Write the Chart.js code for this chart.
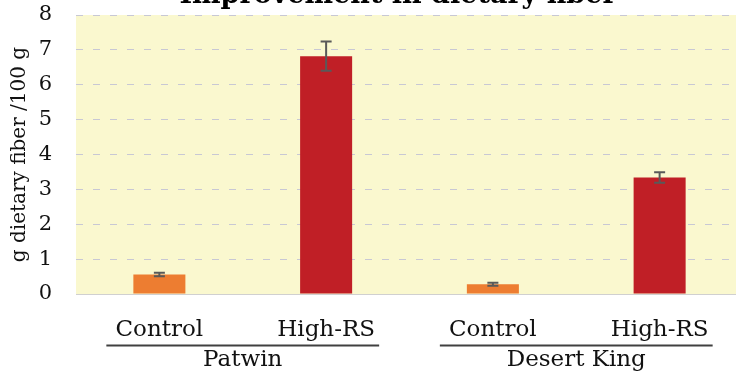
<!DOCTYPE html>
<html>
<head>
<meta charset="utf-8">
<script src="https://cdn.jsdelivr.net/npm/chart.js@4.4.0/dist/chart.umd.min.js"></script>
<style>
  html, body { margin: 0; padding: 0; background: #ffffff; overflow: hidden; }
  #wrap { width: 736px; height: 372px; overflow: hidden; position: relative; }
  canvas { position: absolute; left: 0; top: 0; }
</style>
</head>
<body>
<div id="wrap"><canvas id="c" width="743" height="372"></canvas></div>
<script>
const titleText = 'Improvement in dietary fiber';
const yAxisTitle = 'g dietary fiber /100 g';
const categories = ['Control', 'High-RS', 'Control', 'High-RS'];
const groups = ['Patwin', 'Desert King'];
const groupMembers = [[0, 1], [2, 3]];
const values = [0.56, 6.82, 0.28, 3.34];
const errors = [0.05, 0.42, 0.04, 0.15];
const barColors = ['#ED7D31', '#C01F26', '#ED7D31', '#C01F26'];
const yTicks = [0, 1, 2, 3, 4, 5, 6, 7, 8];

const FONT = "'DejaVu Serif', serif";

const bgPlugin = {
  id: 'bg',
  beforeDraw(chart) {
    const { ctx, chartArea: a } = chart;
    ctx.save();
    ctx.fillStyle = '#FAF8CF';
    ctx.fillRect(a.left, a.top, a.right - a.left, a.bottom - a.top);
    ctx.restore();
  }
};

const errPlugin = {
  id: 'errbars',
  afterDatasetsDraw(chart) {
    const { ctx } = chart;
    const y = chart.scales.y;
    const meta = chart.getDatasetMeta(0);
    ctx.save();
    ctx.strokeStyle = '#595959';
    ctx.lineWidth = 2;
    meta.data.forEach((bar, i) => {
      const x = bar.x;
      const yt = y.getPixelForValue(values[i] + errors[i]);
      const yb = y.getPixelForValue(values[i] - errors[i]);
      ctx.beginPath();
      ctx.moveTo(x, yt); ctx.lineTo(x, yb);
      ctx.moveTo(x - 5.5, yt); ctx.lineTo(x + 5.5, yt);
      ctx.moveTo(x - 5.5, yb); ctx.lineTo(x + 5.5, yb);
      ctx.stroke();
    });
    ctx.restore();
  }
};

const groupPlugin = {
  id: 'groups',
  afterDraw(chart) {
    const { ctx } = chart;
    const x = chart.scales.x;
    const step = x.getPixelForValue(1) - x.getPixelForValue(0);
    ctx.save();
    ctx.font = '23px ' + FONT;
    ctx.fillStyle = '#111111';
    ctx.textAlign = 'center';
    ctx.textBaseline = 'middle';
    ctx.strokeStyle = '#404040';
    ctx.lineWidth = 2;
    groups.forEach((g, gi) => {
      const [i0, i1] = groupMembers[gi];
      const cx = (x.getPixelForValue(i0) + x.getPixelForValue(i1)) / 2;
      const hw = step * 0.818;
      ctx.beginPath();
      ctx.moveTo(cx - hw, 345.5); ctx.lineTo(cx + hw, 345.5);
      ctx.stroke();
      ctx.fillText(g, cx, 360);
    });
    // title (partly cut off at the top)
    ctx.font = 'bold 27px ' + FONT;
    ctx.textBaseline = 'alphabetic';
    ctx.fillStyle = '#000000';
    ctx.fillText(titleText, 398, 3);
    ctx.restore();
  }
};

new Chart(document.getElementById('c'), {
  type: 'bar',
  data: {
    labels: categories,
    datasets: [{
      data: values,
      backgroundColor: barColors,
      borderWidth: 0,
      categoryPercentage: 1,
      barPercentage: 0.312
    }]
  },
  options: {
    responsive: false,
    animation: false,
    layout: { padding: { top: 15, left: 0, right: 0, bottom: 0 } },
    plugins: { legend: { display: false }, tooltip: { enabled: false }, title: { display: false } },
    scales: {
      x: {
        afterFit(s) { s.height = 78; s.paddingLeft = 0; s.paddingRight = 0; },
        grid: { display: false },
        border: { display: true, color: '#d0d0d0', width: 1 },
        ticks: { color: '#111111', font: { family: FONT, size: 23 }, padding: 14, maxRotation: 0 }
      },
      y: {
        min: 0, max: 8,
        afterFit(s) { s.width = 76; s.paddingTop = 0; s.paddingBottom = 0; },
        afterBuildTicks(s) { s.ticks = yTicks.map(v => ({ value: v })); },
        grid: {
          drawTicks: false,
          color: (c) => (c.tick && c.tick.value === 0) ? 'rgba(0,0,0,0)' : '#C8C8D4',
          lineWidth: 1
        },
        border: { display: false, dash: [7, 10] },
        ticks: { color: '#111111', font: { family: FONT, size: 21 }, padding: 24 },
        title: { display: true, text: yAxisTitle, color: '#111111', font: { family: FONT, size: 20 }, padding: { top: 8, bottom: 0 } }
      }
    }
  },
  plugins: [bgPlugin, errPlugin, groupPlugin]
});
</script>
</body>
</html>
